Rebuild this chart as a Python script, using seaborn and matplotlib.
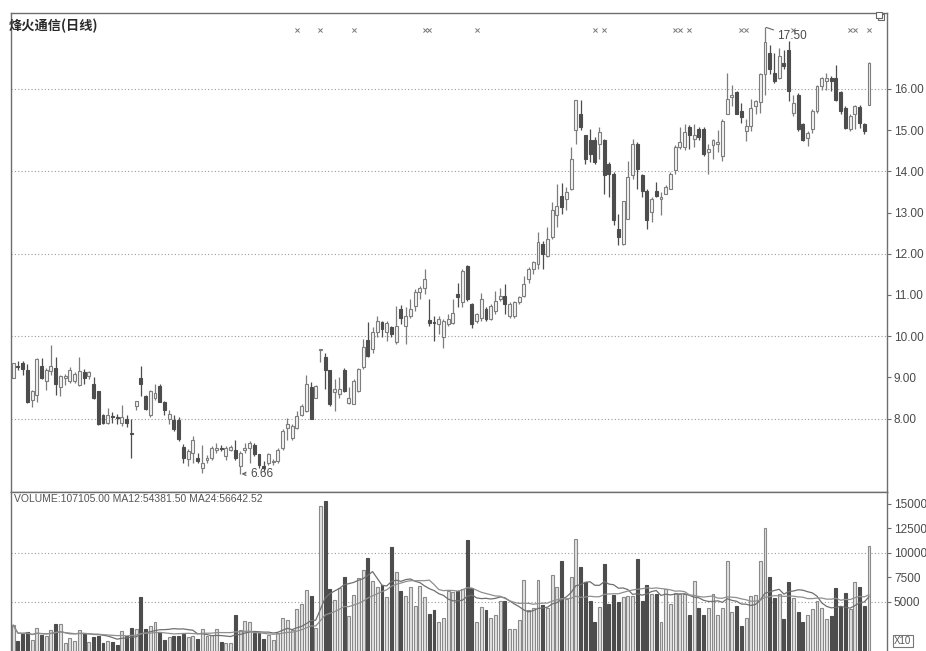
import numpy as np
import pandas as pd
import seaborn as sns
import matplotlib
matplotlib.use("Agg")
import matplotlib.pyplot as plt
from matplotlib.patches import Rectangle


# daily OHLC (price in yuan)
open_px = [
    8.99, 9.27, 9.34, 9.17, 8.45, 8.58, 9.28, 8.91, 9.16, 9.24,
    8.76, 8.98, 8.91, 8.91, 8.81, 9.12, 9.03, 8.83, 8.66, 8.08,
    7.90, 8.05, 8.04, 7.90, 8.00, 7.65, 8.31, 8.99, 8.54, 8.08,
    8.50, 8.79, 8.41, 8.00, 7.96, 7.96, 7.30, 7.01, 7.17, 7.05,
    6.80, 7.00, 7.04, 7.25, 7.28, 7.09, 7.25, 7.25, 6.84, 7.25,
    7.29, 7.37, 7.13, 6.84, 6.92, 6.95, 6.96, 7.29, 7.78, 7.53,
    7.78, 8.10, 8.19, 8.76, 8.51, 9.67, 9.49, 9.17, 8.64, 8.60,
    9.17, 8.39, 8.35, 8.68, 9.25, 9.90, 9.70, 10.09, 10.35, 10.09,
    10.23, 9.85, 10.66, 10.25, 10.49, 10.74, 11.06, 11.18, 10.40, 10.35,
    10.29, 9.97, 10.29, 10.33, 11.02, 10.82, 11.71, 10.78, 10.37, 10.45,
    10.66, 10.41, 10.62, 10.90, 10.98, 10.49, 10.49, 10.82, 10.98, 11.38,
    11.63, 11.75, 12.24, 11.95, 12.40, 12.93, 13.41, 13.33, 13.58, 14.99,
    15.39, 14.87, 14.75, 14.75, 14.67, 14.75, 14.18, 13.94, 12.61, 12.24,
    12.85, 13.90, 14.67, 13.90, 13.53, 13.01, 13.53, 13.33, 13.45, 13.58,
    14.02, 14.59, 14.59, 15.07, 14.79, 15.03, 15.03, 14.46, 14.63, 14.67,
    14.38, 15.38, 15.80, 15.92, 15.46, 14.98, 15.11, 15.58, 15.68, 16.35,
    16.87, 16.39, 16.27, 16.63, 16.95, 15.42, 15.86, 15.14, 14.81, 15.02,
    15.46, 16.06, 16.19, 16.27, 16.27, 15.92, 15.54, 15.02, 15.38, 15.56,
    15.14, 15.62,
]
high_px = [
    9.36, 9.40, 9.39, 9.32, 8.70, 9.47, 9.47, 9.24, 9.78, 9.50,
    9.07, 9.09, 9.26, 9.12, 9.50, 9.20, 9.16, 9.01, 8.68, 8.12,
    8.25, 8.17, 8.12, 8.33, 8.08, 8.00, 8.43, 9.28, 8.58, 8.70,
    8.83, 8.83, 8.43, 8.21, 8.08, 8.04, 7.38, 7.26, 7.58, 7.17,
    7.37, 7.12, 7.33, 7.41, 7.37, 7.33, 7.35, 7.49, 7.21, 7.41,
    7.45, 7.41, 7.14, 6.96, 7.17, 7.02, 7.29, 7.74, 8.02, 7.86,
    8.19, 8.35, 9.06, 8.90, 8.82, 9.68, 9.60, 9.18, 8.96, 9.00,
    9.22, 8.76, 8.96, 9.22, 9.94, 10.35, 10.23, 10.49, 10.37, 10.37,
    10.25, 10.74, 10.76, 10.70, 10.90, 11.14, 11.22, 11.63, 10.91, 10.49,
    10.49, 10.41, 10.53, 10.90, 11.30, 11.63, 11.73, 10.80, 10.57, 11.04,
    10.70, 10.78, 11.10, 11.18, 11.26, 10.82, 10.86, 10.98, 11.47, 11.67,
    11.83, 12.52, 12.30, 12.64, 13.25, 13.69, 13.72, 13.62, 14.59, 15.74,
    15.72, 14.88, 15.03, 14.83, 15.07, 14.79, 14.22, 13.98, 12.97, 13.29,
    14.26, 14.79, 14.71, 13.94, 13.58, 13.37, 13.74, 13.49, 13.66, 13.98,
    14.63, 15.07, 15.15, 15.13, 15.15, 15.07, 15.07, 14.67, 14.79, 14.99,
    15.27, 16.39, 16.10, 15.94, 15.66, 15.26, 15.76, 15.74, 16.39, 17.50,
    17.07, 16.87, 16.99, 16.95, 17.15, 15.86, 15.89, 15.18, 14.98, 15.50,
    16.10, 16.29, 16.39, 16.31, 16.59, 15.94, 15.58, 15.38, 15.62, 15.60,
    15.16, 16.65,
]
low_px = [
    8.98, 9.17, 9.07, 8.37, 8.29, 8.41, 8.95, 8.70, 9.07, 8.58,
    8.54, 8.81, 8.87, 8.87, 8.79, 8.83, 8.95, 8.48, 7.85, 7.88,
    7.88, 7.90, 7.88, 7.83, 7.79, 7.05, 8.21, 8.54, 8.21, 8.04,
    8.45, 8.40, 8.08, 7.88, 7.71, 7.46, 6.93, 6.84, 6.92, 6.92,
    6.68, 6.92, 7.00, 7.17, 7.21, 7.00, 7.21, 7.00, 6.66, 7.17,
    6.92, 7.09, 6.80, 6.72, 6.88, 6.88, 6.92, 7.25, 7.49, 7.49,
    7.74, 8.06, 8.15, 7.98, 8.49, 9.37, 8.72, 8.31, 8.19, 8.51,
    8.64, 8.35, 8.35, 8.64, 9.21, 9.49, 9.60, 9.97, 9.97, 9.89,
    9.97, 9.81, 10.29, 9.81, 10.45, 10.62, 10.90, 11.02, 10.25, 9.89,
    10.05, 9.72, 10.25, 10.29, 10.70, 10.70, 10.86, 10.21, 10.33, 10.37,
    10.37, 10.39, 10.53, 10.86, 10.53, 10.45, 10.45, 10.78, 10.94, 11.30,
    11.51, 11.63, 11.63, 11.93, 12.36, 12.64, 12.97, 13.05, 13.54, 14.67,
    14.99, 14.18, 14.22, 14.18, 14.30, 13.45, 13.37, 12.69, 12.20, 12.20,
    12.85, 13.82, 13.58, 13.37, 12.61, 12.77, 13.37, 12.93, 13.45, 13.58,
    13.94, 14.55, 14.51, 14.55, 14.59, 14.75, 14.38, 13.94, 14.30, 14.46,
    14.26, 15.38, 15.58, 15.38, 15.18, 14.73, 14.98, 15.38, 15.42, 15.84,
    16.35, 16.15, 16.23, 16.47, 15.70, 15.34, 14.98, 14.73, 14.61, 14.94,
    15.42, 15.98, 15.98, 15.94, 15.70, 15.38, 15.02, 14.98, 15.02, 15.06,
    14.90, 15.60,
]
close_px = [
    9.34, 9.25, 9.20, 8.41, 8.66, 9.45, 8.99, 9.17, 9.28, 8.83,
    9.03, 9.03, 9.17, 9.09, 9.16, 8.99, 9.12, 8.50, 7.88, 7.90,
    8.10, 8.03, 8.02, 8.04, 7.90, 7.62, 8.43, 8.84, 8.23, 8.66,
    8.62, 8.41, 8.21, 8.12, 7.75, 7.50, 7.05, 7.21, 7.49, 6.98,
    6.92, 7.05, 7.29, 7.29, 7.26, 7.29, 7.32, 7.04, 7.17, 7.29,
    7.41, 7.13, 6.88, 6.80, 7.13, 6.98, 7.25, 7.70, 7.86, 7.82,
    8.06, 8.31, 8.84, 8.00, 8.80, 9.68, 9.17, 8.35, 8.72, 8.72,
    8.68, 8.51, 8.92, 9.20, 9.74, 9.53, 10.10, 10.37, 10.17, 10.33,
    10.05, 10.25, 10.45, 10.49, 10.66, 11.06, 11.18, 11.38, 10.33, 10.33,
    10.41, 10.37, 10.41, 10.57, 10.94, 11.59, 10.90, 10.29, 10.53, 10.90,
    10.41, 10.74, 10.86, 10.98, 10.78, 10.78, 10.82, 10.94, 11.26, 11.63,
    11.79, 12.28, 11.99, 12.36, 13.05, 13.17, 13.13, 13.49, 14.30, 15.72,
    15.07, 14.30, 14.42, 14.22, 14.95, 13.90, 13.94, 12.81, 12.40, 13.29,
    13.86, 14.67, 14.06, 13.53, 12.81, 13.33, 13.41, 13.37, 13.62, 13.94,
    14.59, 14.71, 14.95, 14.87, 14.87, 14.83, 14.42, 14.55, 14.75, 14.71,
    15.22, 15.76, 15.86, 15.40, 15.32, 15.11, 15.54, 15.70, 16.35, 17.13,
    16.47, 16.19, 16.79, 16.55, 15.94, 15.66, 15.02, 14.77, 14.94, 15.46,
    16.06, 16.27, 16.27, 16.19, 15.74, 15.46, 15.06, 15.34, 15.58, 15.18,
    14.98, 16.63,
]
# volume in chart units (x10 shares)
volume = [
    2640, 1010, 1740, 1920, 1090, 2390, 1670, 1560, 2100, 2720,
    2720, 830, 1300, 1010, 2170, 1850, 900, 1380, 1560, 830,
    1010, 940, 650, 1990, 1560, 2350, 2210, 5540, 2280, 2570,
    3000, 1920, 1090, 1380, 1480, 1480, 1740, 1380, 1560, 1190,
    2280, 1560, 1670, 2210, 940, 830, 830, 3620, 2100, 3080,
    2930, 1850, 1850, 1190, 1670, 1090, 1850, 3370, 3110, 2100,
    4270, 4810, 6260, 5650, 2350, 14770, 15240, 6330, 5180, 6440,
    7530, 3550, 5720, 7420, 8250, 9520, 7170, 6520, 6700, 5540,
    10610, 8070, 6080, 5650, 6550, 4630, 6620, 5470, 3800, 4200,
    2930, 3370, 6080, 5980, 6080, 6320, 11320, 6430, 3000, 4530,
    4180, 3360, 3710, 5070, 5140, 2210, 2210, 3110, 7210, 4180,
    4430, 7280, 4640, 4360, 7750, 6570, 9170, 5250, 7570, 11390,
    8530, 7030, 5140, 3000, 4530, 8890, 4780, 5680, 5000, 5500,
    5600, 5600, 9350, 5140, 6750, 5850, 5780, 2930, 6320, 4780,
    5960, 5780, 5780, 3640, 7140, 4360, 3710, 4430, 5780, 3710,
    4430, 9170, 4000, 4610, 2500, 3360, 5600, 5680, 9170, 12570,
    7500, 5430, 5850, 3280, 7030, 5360, 4000, 2930, 3710, 4250,
    5140, 4430, 3210, 3570, 6430, 4530, 5960, 4250, 7030, 6500,
    4610, 10710,
]

price_ticks = [8, 9, 10, 11, 12, 13, 14, 15, 16]
price_grid = [8, 10, 12, 14, 16]
vol_ticks = [5000, 7500, 10000, 12500, 15000]
vol_grid = [5000, 10000]
# days carrying an info marker along the top of the price panel
info_days = [60, 65, 72, 87, 88, 98, 123, 125, 140, 141, 143, 154, 155, 165, 177, 178, 181]

title = "烽火通信(日线)"
vol_header = "VOLUME:107105.00 MA12:54381.50 MA24:56642.52"


df = pd.DataFrame({'open': open_px, 'high': high_px, 'low': low_px,
                   'close': close_px, 'volume': volume})
df['day'] = np.arange(len(df))
df['up'] = df.close >= df.open
df['MA12'] = df.volume.rolling(12, min_periods=1).mean()
df['MA24'] = df.volume.rolling(24, min_periods=1).mean()

sns.set_theme(style='white')
plt.rcParams['font.family'] = ['Liberation Sans', 'Noto Sans CJK SC', 'DejaVu Sans']

W, H = 926, 651
fig = plt.figure(figsize=(W / 100, H / 100), dpi=100)
left, right = 11 / W, 887 / W
split = 1 - 492 / H
top = 1 - 13 / H
ax = fig.add_axes([left, split, right - left, top - split])
axv = fig.add_axes([left, 0, right - left, split])

frame = '#6e6e6e'
txt = '#4a4a4a'
up_edge = '#7d7d7d'
down_col = '#4d4d4d'
body_w = 0.62

# price panel
for g in price_grid:
    ax.axhline(g, color='#9a9a9a', lw=0.8, ls=(0, (1, 2)), zorder=0)

wick_col = np.where(df.up, up_edge, down_col)
ax.vlines(df.day, df.low, df.high, colors=wick_col, lw=0.9, zorder=1)
body_h = (df.close - df.open).abs().clip(lower=0.025)
body_b = df[['open', 'close']].min(axis=1)
ax.bar(df.day, body_h, bottom=body_b, width=body_w,
       color=np.where(df.up, '#f4f4f4', down_col),
       edgecolor=np.where(df.up, up_edge, down_col), linewidth=0.8, zorder=2)

sns.scatterplot(x=info_days, y=[17.42] * len(info_days), marker='x', s=9,
                color='#7a7a7a', linewidth=0.7, ax=ax, zorder=3)

hi = df.high.idxmax()
ax.annotate(f"{df.high[hi]:.2f}", xy=(hi, df.high[hi]), xytext=(hi + 2.5, df.high[hi] - 0.22),
            fontsize=8.5, color=txt, va='center', ha='left',
            arrowprops=dict(arrowstyle='-', color='#666', lw=0.8,
                            shrinkA=0, shrinkB=1))
lo = df.low.idxmin()
ax.annotate(f"{df.low[lo]:.2f}", xy=(lo, df.low[lo]), xytext=(lo + 2.2, df.low[lo]),
            fontsize=8.5, color=txt, va='center', ha='left',
            arrowprops=dict(arrowstyle='->', color='#666', lw=0.8,
                            shrinkA=1, shrinkB=1, mutation_scale=6))

ax.set_xlim(-0.45, 184.8)
ax.set_ylim(6.22, 17.84)
ax.yaxis.tick_right()
ax.set_yticks(price_ticks)
ax.set_yticklabels([f"{t:.2f}" for t in price_ticks])
ax.set_xticks([])
ax.tick_params(axis='y', direction='out', length=3, width=0.8, color=frame,
               labelsize=8.5, labelcolor=txt, pad=2, right=True)
for s in ax.spines.values():
    s.set_color(frame)
    s.set_linewidth(1)
fig.text(9 / W, 1 - 26 / H, title, ha='left', va='center',
         fontsize=9.5, fontweight='bold', color='#2a2a2a',
         family=['Noto Sans CJK SC', 'DejaVu Sans'])

# volume panel
for g in vol_grid:
    axv.axhline(g, color='#9a9a9a', lw=0.8, ls=(0, (1, 2)), zorder=0)
axv.bar(df.day, df.volume, width=body_w,
        color=np.where(df.up, '#e2e2e2', down_col),
        edgecolor=np.where(df.up, '#8a8a8a', down_col), linewidth=0.8, zorder=2)
ma = df.melt(id_vars='day', value_vars=['MA12', 'MA24'], var_name='ma', value_name='v')
sns.lineplot(data=ma, x='day', y='v', hue='ma', palette=['#6f6f6f', '#8f8f8f'],
             lw=0.9, legend=False, ax=axv, zorder=3)

axv.set_xlim(-0.45, 184.8)
axv.set_ylim(0, 16200)
axv.yaxis.tick_right()
axv.set_yticks(vol_ticks)
axv.set_yticklabels([str(t) for t in vol_ticks])
axv.set_xticks([])
axv.set_xlabel('')
axv.set_ylabel('')
axv.tick_params(axis='y', direction='out', length=3, width=0.8, color=frame,
                labelsize=8.5, labelcolor=txt, pad=2, right=True)
for s in axv.spines.values():
    s.set_color(frame)
    s.set_linewidth(1)
axv.spines['bottom'].set_visible(False)
axv.text(0.003, 0.985, vol_header, transform=axv.transAxes, ha='left', va='top',
         fontsize=7.5, color='#555555')

fig.text(894 / W, 1 - 641 / H, 'X10', fontsize=7, color='#555555', va='center', ha='left',
         bbox=dict(boxstyle='square,pad=0.15', fc='none', ec='#777777', lw=0.8))

# small window icon at the top right corner of the price panel
for dx, dy in [(2, 0), (0, 2)]:
    fig.patches.append(Rectangle(((876 + dx) / W, 1 - (20 - dy) / H), 6 / W, 6 / H,
                                 transform=fig.transFigure, fill=dx == 0,
                                 fc='white', ec='#666666', lw=0.8))

fig.savefig('out.png', dpi=100)
